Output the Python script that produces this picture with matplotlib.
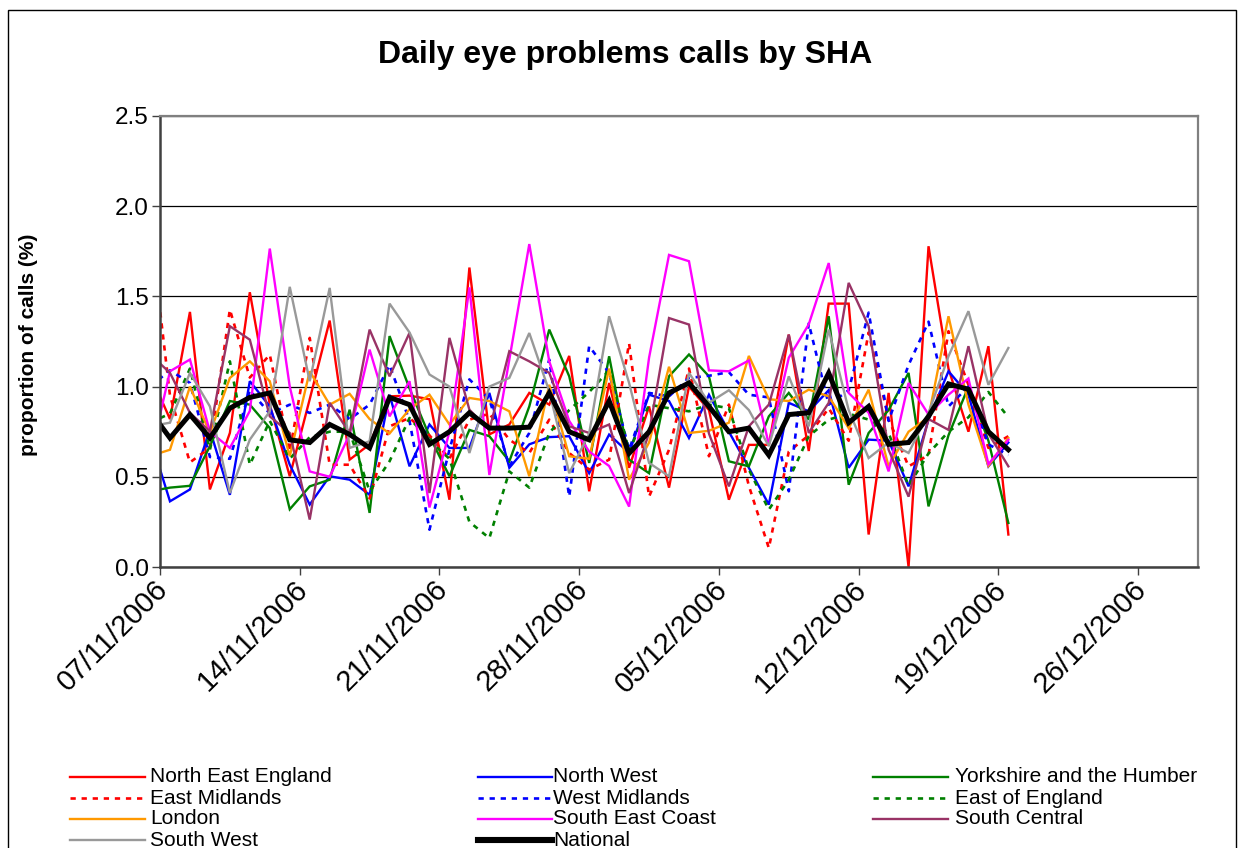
import matplotlib
matplotlib.use("Agg")
import matplotlib.pyplot as plt
import matplotlib.dates as mdates
import matplotlib.transforms as mtrans
from matplotlib.lines import Line2D
from matplotlib.patches import Rectangle
import pandas as pd

plt.rcParams['font.family'] = ['Liberation Sans', 'DejaVu Sans']

# ---------------- data ----------------
dates = pd.date_range('2006-11-06 12:00', periods=44, freq='D')

north_east_england = [1.07, 0.82, 1.414, 0.43, 0.743, 1.523, 0.9, 0.503, 0.93, 1.366, 0.595, 0.68, 0.946, 0.95, 0.93,
                      0.373, 1.66, 0.735, 0.79, 0.965, 0.90, 1.17, 0.42, 1.02, 0.55, 0.89, 0.44, 1.0, 0.87, 0.373,
                      0.677, 0.677, 1.288, 0.643, 1.46, 1.46, 0.18, 0.965, 0.0, 1.778, 1.1, 0.75, 1.224, 0.18]
north_west = [0.72, 0.364, 0.43, 0.76, 0.4, 1.03, 0.89, 0.567, 0.346, 0.503, 0.484, 0.4, 0.955, 0.558, 0.79,
              0.66, 0.66, 0.965, 0.55, 0.68, 0.72, 0.725, 0.52, 0.734, 0.632, 0.955, 0.92, 0.715, 0.955, 0.75,
              0.55, 0.346, 0.91, 0.863, 0.98, 0.55, 0.706, 0.7, 0.447, 0.817, 1.085, 0.955, 0.558, 0.69]
yorkshire_humber = [0.42, 0.44, 0.45, 0.67, 0.92, 0.9, 0.77, 0.32, 0.447, 0.484, 0.872, 0.3, 1.28, 0.99, 0.725,
                    0.503, 0.76, 0.725, 0.586, 0.89, 1.316, 1.057, 0.577, 1.168, 0.595, 0.52, 1.057, 1.178, 1.057,
                    0.586, 0.558, 0.835, 0.965, 0.817, 1.39, 0.456, 0.743, 0.87, 1.076, 0.336, 0.73, 1.0, 0.7, 0.244]
east_midlands = [1.9, 0.95, 0.58, 0.66, 1.427, 1.05, 1.177, 0.64, 1.27, 0.567, 0.567, 0.38, 0.78, 0.826, 0.73,
                 0.6, 0.817, 0.85, 0.706, 0.632, 0.817, 0.632, 0.54, 0.595, 1.24, 0.39, 0.65, 1.1, 0.614, 0.9,
                 0.45, 0.105, 0.64, 0.73, 0.88, 0.7, 1.3, 0.82, 0.558, 0.62, 1.307, 1.01, 0.66, 0.725]
west_midlands = [1.0, 1.09, 1.02, 0.61, 0.6, 0.98, 0.85, 0.9, 0.854, 0.9, 0.82, 0.9, 1.12, 0.81, 0.207,
                 0.65, 1.04, 0.93, 0.558, 0.743, 1.15, 0.39, 1.224, 1.076, 0.65, 0.965, 0.946, 1.048, 1.06, 1.08,
                 0.955, 0.94, 0.42, 1.35, 0.9, 0.98, 1.41, 0.81, 1.12, 1.36, 0.89, 1.0, 0.68, 0.62]
east_of_england = [0.8, 0.85, 1.1, 0.65, 1.14, 0.567, 0.81, 0.6, 0.72, 0.75, 0.75, 0.42, 0.586, 0.826, 0.7,
                   0.6, 0.25, 0.16, 0.53, 0.44, 0.743, 0.87, 0.97, 1.09, 0.64, 0.9, 0.88, 0.863, 0.9, 0.88,
                   0.54, 0.318, 0.484, 0.725, 0.817, 0.85, 0.817, 0.743, 0.45, 0.63, 0.75, 0.83, 0.97, 0.83]
london = [0.615, 0.65, 1.0, 0.743, 1.048, 1.14, 1.03, 0.614, 1.085, 0.9, 0.96, 0.82, 0.74, 0.875, 0.955,
          0.79, 0.937, 0.92, 0.863, 0.503, 1.01, 0.614, 0.6, 1.1, 0.484, 0.69, 1.11, 0.743, 0.755, 0.8,
          1.17, 0.93, 0.92, 0.983, 0.946, 0.77, 0.983, 0.558, 0.75, 0.83, 1.39, 0.9, 0.56, 0.715]
south_east_coast = [0.6, 1.085, 1.15, 0.75, 0.66, 0.865, 1.765, 1.0, 0.53, 0.50, 0.735, 1.205, 0.835, 1.03, 0.33,
                    0.75, 1.55, 0.51, 1.15, 1.79, 1.14, 0.81, 0.64, 0.56, 0.335, 1.16, 1.73, 1.695, 1.09, 1.085,
                    1.145, 0.68, 1.16, 1.345, 1.685, 0.965, 0.855, 0.53, 1.02, 0.845, 0.955, 1.045, 0.57, 0.705]
south_central = [1.18, 1.076, 0.854, 0.752, 1.335, 1.26, 0.835, 0.743, 0.263, 0.91, 0.743, 1.316, 1.057, 1.298, 0.41,
                 1.27, 0.872, 0.76, 1.196, 1.14, 1.076, 0.78, 0.743, 0.79, 0.41, 0.743, 1.38, 1.344, 0.74, 0.447,
                 0.78, 0.9, 1.288, 0.743, 0.91, 1.575, 1.335, 0.65, 0.39, 0.82, 0.76, 1.224, 0.74, 0.558]
south_west = [0.78, 0.80, 1.076, 0.89, 0.41, 0.706, 0.863, 1.553, 1.03, 1.547, 0.66, 0.697, 1.46, 1.30, 1.067,
              1.0, 0.632, 1.0, 1.048, 1.297, 0.974, 0.52, 0.74, 1.39, 1.02, 0.577, 0.503, 1.076, 0.91, 0.98,
              0.87, 0.67, 1.057, 0.78, 1.316, 0.87, 0.604, 0.69, 0.632, 0.854, 1.168, 1.418, 1.01, 1.214]
national = [0.865, 0.715, 0.845, 0.715, 0.88, 0.94, 0.965, 0.705, 0.69, 0.79, 0.735, 0.66, 0.94, 0.90, 0.68,
            0.75, 0.855, 0.77, 0.77, 0.775, 0.965, 0.75, 0.705, 0.92, 0.63, 0.75, 0.965, 1.02, 0.89, 0.75,
            0.77, 0.62, 0.845, 0.855, 1.075, 0.80, 0.89, 0.68, 0.69, 0.835, 1.015, 0.985, 0.75, 0.65]

series_names = ["North East England", "North West", "Yorkshire and the Humber",
                "East Midlands", "West Midlands", "East of England",
                "London", "South East Coast", "South Central",
                "South West", "National"]
series_values = [north_east_england, north_west, yorkshire_humber,
                 east_midlands, west_midlands, east_of_england,
                 london, south_east_coast, south_central,
                 south_west, national]

# ---------------- styles ----------------
DOT = (0, (2.0, 2.2))
styles = [
    dict(color='#FF0000', lw=1.7, ls='-'),
    dict(color='#0000FF', lw=1.7, ls='-'),
    dict(color='#008000', lw=1.7, ls='-'),
    dict(color='#FF0000', lw=1.9, ls=DOT),
    dict(color='#0000FF', lw=1.9, ls=DOT),
    dict(color='#008000', lw=1.9, ls=DOT),
    dict(color='#FF9900', lw=1.7, ls='-'),
    dict(color='#FF00FF', lw=1.7, ls='-'),
    dict(color='#993366', lw=1.7, ls='-'),
    dict(color='#999999', lw=1.7, ls='-'),
    dict(color='#000000', lw=3.6, ls='-'),
]

W, H = 1238, 848
fig = plt.figure(figsize=(W / 100, H / 100), dpi=100)
fig.patch.set_facecolor('white')

ax_l, ax_r, ax_t, ax_b = 160, 1198, 116, 567
ax = fig.add_axes([ax_l / W, 1 - ax_b / H, (ax_r - ax_l) / W, (ax_b - ax_t) / H])

for name, vals, st in zip(series_names, series_values, styles):
    ax.plot(dates, vals, color=st['color'], lw=st['lw'], ls=st['ls'],
            solid_joinstyle='miter', label=name)

ax.set_xlim(pd.Timestamp('2006-11-07'), pd.Timestamp('2006-12-29'))
ax.set_ylim(0, 2.5)
ax.set_yticks([0, 0.5, 1.0, 1.5, 2.0, 2.5])
ax.yaxis.set_major_formatter(plt.FuncFormatter(lambda v, p: f"{v:.1f}"))
ticks = pd.date_range('2006-11-07', '2006-12-26', freq='7D')
ax.set_xticks(ticks)
ax.xaxis.set_major_formatter(mdates.DateFormatter('%d/%m/%Y'))

ax.grid(axis='y', color='#000000', lw=0.9)
ax.set_axisbelow(True)
for s in ['top', 'right']:
    ax.spines[s].set_color('#808080')
    ax.spines[s].set_linewidth(1.6)
for s in ['left', 'bottom']:
    ax.spines[s].set_color('#404040')
    ax.spines[s].set_linewidth(1.8)

ax.tick_params(axis='y', direction='out', length=6, width=1, colors='#404040',
               labelsize=17.5, labelcolor='black', pad=2)
ax.tick_params(axis='x', direction='out', length=6, width=1, colors='#404040',
               labelsize=21, labelcolor='black', pad=0)
shift = mtrans.ScaledTranslation(-6 / 100, 0, fig.dpi_scale_trans)
for lab in ax.get_xticklabels():
    lab.set_rotation(45)
    lab.set_ha('right')
    lab.set_va('top')
    lab.set_rotation_mode('anchor')
    lab.set_transform(lab.get_transform() + shift)

fig.text(625 / W, 1 - 55 / H, "Daily eye problems calls by SHA", ha='center', va='center',
         fontsize=23, fontweight='bold')
fig.text(29 / W, 1 - 345 / H, "proportion of calls (%)", ha='center', va='center',
         rotation=90, fontsize=15, fontweight='bold')

# outer chart border
fig.patches.append(Rectangle((8 / W, -0.05), (1236 - 8) / W, 1 - 10 / H + 0.05,
                             transform=fig.transFigure, fill=False, ec='black', lw=1.0))

# manual legend (3 columns, row-major like the original)
col_handle = [(70, 145), (478, 552), (873, 948)]
col_text = [150, 553, 955]
row_y = [777, 798, 819, 840]
for i, (name, st) in enumerate(zip(series_names, styles)):
    r, c = divmod(i, 3)
    x0, x1 = col_handle[c]
    y = 1 - row_y[r] / H
    fig.add_artist(Line2D([x0 / W, x1 / W], [y, y], transform=fig.transFigure,
                          color=st['color'], lw=st['lw'] + (0.8 if i == 10 else 0), ls=st['ls']))
    fig.text(col_text[c] / W, y, name, ha='left', va='center', fontsize=15)

fig.savefig('out.png', dpi=100, facecolor='white')
